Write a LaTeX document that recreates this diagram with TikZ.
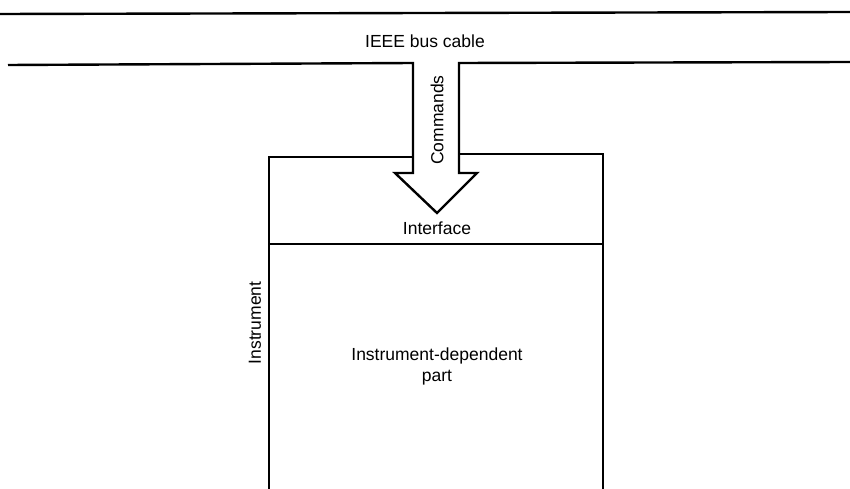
\documentclass[tikz,border=0pt]{standalone}
\usepackage{fontspec}
\setmainfont{Liberation Sans}
\usetikzlibrary{positioning}

\begin{document}
\begin{tikzpicture}[x=1pt,y=-1pt,line width=2.4pt,line join=miter,
  every node/.style={font=\fontsize{17.5}{21}\selectfont,align=center}]
\useasboundingbox (0,0) rectangle (850,489);
% bus cable
\draw (0,14) -- (850,12);
\draw (8,65) -- (413,63) -- (413,173) -- (395,173) -- (437,213) -- (477,173) -- (459,173) -- (459,63) -- (850,62);
% instrument box
\draw (269,489) -- (269,157) -- (413,157);
\draw (459,154) -- (603,154) -- (603,489);
\draw (269,244) -- (603,244);
\node (bus) at (425,41) {IEEE bus cable};
\node[rotate=90] (cmd) at (437,120) {Commands};
\node (iface) at (437,228) {Interface};
\node[rotate=90] (inst) at (255,323) {Instrument};
\node (dep) at (437,366) {Instrument-dependent\\part};
\end{tikzpicture}
\end{document}
